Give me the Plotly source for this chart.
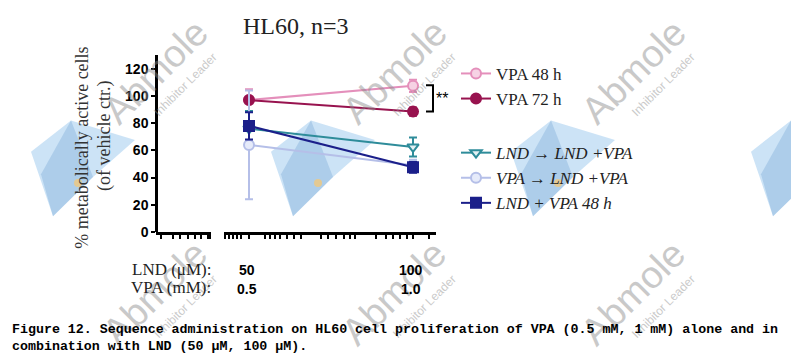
import plotly.graph_objects as go
import math

W, H = 799, 357

# ---------------- data ----------------
doses = [50, 100]                     # LND (uM) positions on the log axis
lnd_labels = ["50", "100"]
vpa_labels = ["0.5", "1.0"]

series_names = ["VPA 48 h", "VPA 72 h",
                "<i>LND → LND +VPA</i>", "<i>VPA → LND +VPA</i>", "<i>LND + VPA 48 h</i>"]
vpa48 = [97, 107.5]
vpa48_err = [8, 4.5]
vpa72 = [97, 88.5]
vpa72_err = [2, 3]
lnd_lnd = [76, 62.5]
lnd_lnd_err = [13, 7]
vpa_lnd = [64, 49]
vpa_lnd_err = [40, 4]
lnd_vpa48 = [78, 47.5]
lnd_vpa48_err = [10, 4]

y_ticks = [0, 20, 40, 60, 80, 100, 120]
right_ticks = [45.2, 45.9, 46.7, 47.5, 48.3, 50, 53.5, 54.6, 55.8, 57.0, 58.7, 60.4, 62.3,
               67.8, 69.8, 72.2, 74.7, 76.6, 78.3, 85.6, 89.3, 92.0, 94.8, 97.3, 100, 107]
left_ticks = [0.09, 0.31, 0.44, 0.58, 0.71, 0.82, 0.95, 0.985]

colors = ["#e48fbb", "#98134f", "#2e8c9a", "#b5bfe8", "#1b1f8a"]
fills = ["#f6d2e4", "#98134f", "#e3f1f3", "#e6ebfa", "#1b1f8a"]
symbols = ["circle", "circle", "triangle-down", "circle", "square"]
groups = ["a", "a", "b", "b", "b"]

def px(x):
    return x / W

def py(y):
    return 1 - y / H

fig = go.Figure()
# placeholder trace so the left (broken) x segment is drawn
fig.add_trace(go.Scatter(x=[0, 1], y=[None, None], xaxis="x", yaxis="y",
                         mode="lines", showlegend=False, hoverinfo="skip"))
all_y = [vpa48, vpa72, lnd_lnd, vpa_lnd, lnd_vpa48]
all_e = [vpa48_err, vpa72_err, lnd_lnd_err, vpa_lnd_err, lnd_vpa48_err]
for i in range(5):
    fig.add_trace(go.Scatter(
        x=doses, y=all_y[i], name=series_names[i], legendgroup=groups[i],
        legendrank=i + 1,
        mode="lines+markers", xaxis="x2", yaxis="y",
        line=dict(color=colors[i], width=2),
        marker=dict(symbol=symbols[i], size=10, color=fills[i],
                    line=dict(color=colors[i], width=2)),
        error_y=dict(type="data", array=all_e[i], color=colors[i], thickness=2, width=4),
    ))

# axis geometry (pixels)
x_left0, x_left1 = 148, 203
x_right0, x_right1 = 216, 428
y_zero, y_top = 229, 48.3

fig.update_layout(
    width=W, height=H,
    margin=dict(l=0, r=0, t=0, b=0),
    paper_bgcolor="white", plot_bgcolor="rgba(0,0,0,0)",
    showlegend=True,
    legend=dict(x=px(448), y=py(49), xanchor="left", yanchor="top",
                font=dict(family="Liberation Serif", size=17, color="#222"),
                traceorder="grouped", tracegroupgap=29, itemwidth=30,
                bgcolor="rgba(0,0,0,0)"),
    xaxis=dict(domain=[px(x_left0), px(x_left1)], range=[0, 1], anchor="y",
               showline=True, linecolor="black", linewidth=2.5,
               tickmode="array", tickvals=left_ticks, ticktext=[""] * len(left_ticks),
               ticks="outside", ticklen=4, tickwidth=2, tickcolor="black",
               showgrid=False, zeroline=False),
    xaxis2=dict(domain=[px(x_right0), px(x_right1)], type="log",
                range=[1.65308, 2.04218], anchor="y",
                showline=True, linecolor="black", linewidth=2.5,
                tickmode="array", tickvals=right_ticks, ticktext=[""] * len(right_ticks),
                ticks="outside", ticklen=4, tickwidth=2, tickcolor="black",
                showgrid=False, zeroline=False),
    yaxis=dict(domain=[py(y_zero), py(y_top)], range=[0, 130],
               anchor="free", position=px(x_left0),
               showline=True, linecolor="black", linewidth=2.5,
               tickmode="array", tickvals=y_ticks,
               ticks="outside", ticklen=4, tickwidth=2, tickcolor="black",
               tickfont=dict(family="Liberation Sans", size=14, color="black", weight="bold"),
               showgrid=False, zeroline=False),
)

ann = []
# watermark text
for cx in (147, 386, 625):
    for cy in (65, 292):
        ann.append(dict(text="Abmole", x=px(cx), y=py(cy), xref="paper", yref="paper",
                        xanchor="center", yanchor="middle", showarrow=False, textangle=-45,
                        opacity=0.45,
                        font=dict(family="Liberation Sans", size=38, color="#8a8a8a")))
        ann.append(dict(text="Inhibitor Leader", x=px(cx + 30), y=py(cy + 14), xref="paper", yref="paper",
                        xanchor="center", yanchor="middle", showarrow=False, textangle=-45,
                        opacity=0.45,
                        font=dict(family="Liberation Sans", size=12, color="#8a8a8a")))

ann.append(dict(text="HL60, n=3", x=px(288), y=py(18), xref="paper", yref="paper",
                xanchor="center", yanchor="middle",
                showarrow=False, font=dict(family="Liberation Serif", size=24, color="#222")))
ann.append(dict(text="% metabolically active cells", x=px(74), y=py(143), xref="paper", yref="paper",
                xanchor="center", yanchor="middle", showarrow=False, textangle=-90,
                font=dict(family="Liberation Serif", size=18, color="#333")))
ann.append(dict(text="(of vehicle ctr.)", x=px(96), y=py(131), xref="paper", yref="paper",
                xanchor="center", yanchor="middle", showarrow=False, textangle=-90,
                font=dict(family="Liberation Serif", size=18, color="#333")))
ann.append(dict(text="LND (μM):", x=px(205), y=py(268), xref="paper", yref="paper",
                xanchor="right", yanchor="middle", showarrow=False,
                font=dict(family="Liberation Serif", size=17, color="#222")))
ann.append(dict(text="VPA (mM):", x=px(205), y=py(286), xref="paper", yref="paper",
                xanchor="right", yanchor="middle", showarrow=False,
                font=dict(family="Liberation Serif", size=17, color="#222")))
for d, l1, l2 in zip(doses, lnd_labels, vpa_labels):
    for lab, yy in ((l1, 268), (l2, 287)):
        ann.append(dict(text=lab, x=math.log10(d), xref="x2", y=py(yy), yref="paper",
                        xanchor="center", yanchor="middle", showarrow=False, xshift=-2,
                        font=dict(family="Liberation Sans", size=14, color="black", weight="bold")))
ann.append(dict(text="**", x=px(434), y=py(93), xref="paper", yref="paper", xanchor="center",
                yanchor="middle", showarrow=False,
                font=dict(family="Liberation Sans", size=16, color="black")))
caption = ("Figure 12. Sequence administration on HL60 cell proliferation of VPA (0.5 mM, 1 mM) alone and in<br>"
           "combination with LND (50 μM, 100 μM).")
ann.append(dict(text=caption, x=px(2), y=py(319), xref="paper", yref="paper",
                xanchor="left", yanchor="top", align="left", showarrow=False,
                font=dict(family="Liberation Mono", size=13.3, color="black", weight="bold")))
fig.update_layout(annotations=ann)

# watermark logo shapes (light blue chevrons with an orange dot), drawn below the data
for ox in (23, 263, 503, 743):
    pts = [(ox, 147), (ox + 40, 115), (ox + 104, 135), (ox + 62, 173), (ox + 22, 213)]
    path = "M " + " L ".join(f"{px(a)} {py(b)}" for a, b in pts) + " Z"
    fig.add_shape(type="path", xref="paper", yref="paper", path=path, layer="below",
                  fillcolor="rgba(110,175,230,0.35)", line=dict(width=0))
    inner = [(ox + 40, 115), (ox + 62, 173), (ox + 22, 213), (ox + 10, 170)]
    path2 = "M " + " L ".join(f"{px(a)} {py(b)}" for a, b in inner) + " Z"
    fig.add_shape(type="path", xref="paper", yref="paper", path=path2, layer="below",
                  fillcolor="rgba(80,140,200,0.25)", line=dict(width=0))
    fig.add_shape(type="circle", xref="paper", yref="paper", layer="below",
                  x0=px(ox + 43), x1=px(ox + 51), y0=py(183), y1=py(175),
                  fillcolor="rgba(250,200,110,0.7)", line=dict(width=0))

# significance bracket
fig.add_shape(type="path", xref="paper", yref="paper",
              path=f"M {px(418)} {py(79)} L {px(425)} {py(79)} L {px(425)} {py(106)} L {px(418)} {py(106)}",
              line=dict(color="black", width=2))

fig.write_html("out.html")
